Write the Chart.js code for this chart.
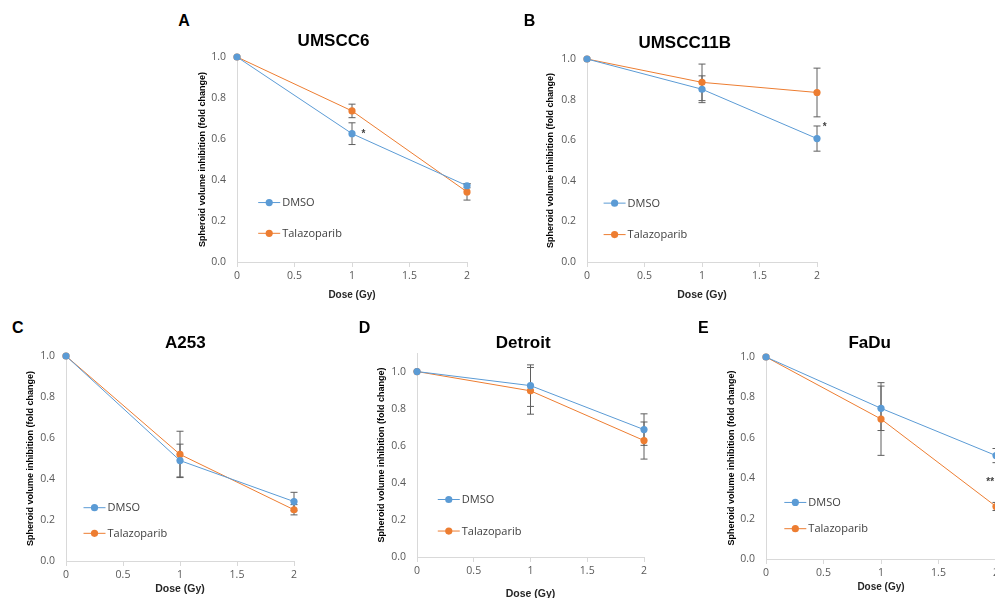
<!DOCTYPE html>
<html><head><meta charset="utf-8">
<script src="https://cdn.jsdelivr.net/npm/chart.js@4.4.1/dist/chart.umd.min.js"></script>
<style>
html,body{margin:0;padding:0;width:995px;height:598px;overflow:hidden;background:#fff;position:relative;}
canvas{position:absolute;}
.lbl{position:absolute;transform:translate(-50%,-50%);font-family:'Liberation Sans',Arial,sans-serif;font-weight:bold;line-height:1;white-space:nowrap;color:#000;}
</style></head><body>
<script>
// ---------- data ----------
const doses = [0, 1, 2];
const xTickLabels = ['0', '0.5', '1', '1.5', '2'];
const yTickLabels = ['0.0', '0.2', '0.4', '0.6', '0.8', '1.0'];
const seriesNames = ['DMSO', 'Talazoparib'];
const panelLetters = ['A', 'B', 'C', 'D', 'E'];
const panelTitles = ['UMSCC6', 'UMSCC11B', 'A253', 'Detroit', 'FaDu'];
const xAxisTitle = 'Dose (Gy)';
const yAxisTitle = 'Spheroid volume inhibition (fold change)';

const umscc6Dmso = [1.0, 0.626, 0.372];
const umscc6DmsoErr = [0, 0.053, 0.01];
const umscc6Tala = [1.0, 0.737, 0.342];
const umscc6TalaErr = [0, 0.033, 0.04];
const umscc6Marks = [{x: 1.10, y: 0.634, text: '*'}];

const umscc11bDmso = [1.0, 0.851, 0.608];
const umscc11bDmsoErr = [0, 0.066, 0.062];
const umscc11bTala = [1.0, 0.885, 0.835];
const umscc11bTalaErr = [0, 0.09, 0.12];
const umscc11bMarks = [{x: 2.066, y: 0.674, text: '*'}];

const a253Dmso = [1.0, 0.49, 0.29];
const a253DmsoErr = [0, 0.08, 0.045];
const a253Tala = [1.0, 0.52, 0.25];
const a253TalaErr = [0, 0.113, 0.025];
const a253Marks = [];

const detroitDmso = [1.0, 0.924, 0.687];
const detroitDmsoErr = [0, 0.112, 0.085];
const detroitTala = [1.0, 0.896, 0.628];
const detroitTalaErr = [0, 0.126, 0.10];
const detroitMarks = [];

const fadeDmso = [1.0, 0.746, 0.512];
const fadeDmsoErr = [0, 0.11, 0.035];
const fadeTala = [1.0, 0.693, 0.26];
const fadeTalaErr = [0, 0.18, 0.02];
const fadeMarks = [{x: 1.95, y: 0.39, text: '**'}];

// ---------- styles / layout ----------
const COLORS = ['#5b9bd5', '#ed7d31'];
const panels = [
  {L:237, R:467, T:57,  B:262, ymax:1.0, hx:39, xts:10,   ytp:5.6, lx:0.28,  ly:[0.29,0.14],  title:[333.5,40],   letter:[184,21.3],
   d:[umscc6Dmso, umscc6DmsoErr, umscc6Tala, umscc6TalaErr, umscc6Marks]},
  {L:587, R:817, T:59,  B:262, ymax:1.0, hx:39, xts:10.5, ytp:3.6, lx:0.24,  ly:[0.29,0.135], title:[684.7,41.7], letter:[529.5,21],
   d:[umscc11bDmso, umscc11bDmsoErr, umscc11bTala, umscc11bTalaErr, umscc11bMarks]},
  {L:66,  R:294, T:356, B:561, ymax:1.0, hx:34, xts:10.5, ytp:3.9, lx:0.25,  ly:[0.26,0.135], title:[185.3,342.3], letter:[17.8,328],
   d:[a253Dmso, a253DmsoErr, a253Tala, a253TalaErr, a253Marks]},
  {L:417, R:644, T:353, B:557, ymax:1.1, hx:43, xts:10.5, ytp:4.6, lx:0.28,  ly:[0.31,0.14],  title:[523.2,341.7], letter:[364.5,328.3],
   d:[detroitDmso, detroitDmsoErr, detroitTala, detroitTalaErr, detroitMarks]},
  {L:766, R:996, T:357, B:559, ymax:1.0, hx:34, xts:10,   ytp:5.0, lx:0.255, ly:[0.28,0.15],  title:[869.7,342.3], letter:[703.3,328],
   d:[fadeDmso, fadeDmsoErr, fadeTala, fadeTalaErr, fadeMarks]}
];

Chart.defaults.font.family = "'Open Sans', sans-serif";

const errorBars = {
  id: 'errorBars',
  beforeDatasetsDraw(chart) {
    const ctx = chart.ctx, y = chart.scales.y;
    ctx.save();
    ctx.strokeStyle = '#5f5f5f';
    ctx.lineWidth = 1;
    chart.data.datasets.forEach((ds, i) => {
      const meta = chart.getDatasetMeta(i);
      (ds.errors || []).forEach((e, j) => {
        if (!e) return;
        const px = meta.data[j].x;
        const v = ds.data[j].y;
        const t = y.getPixelForValue(v + e), b = y.getPixelForValue(v - e);
        ctx.beginPath();
        ctx.moveTo(px, t); ctx.lineTo(px, b);
        ctx.moveTo(px - 3.5, t); ctx.lineTo(px + 3.5, t);
        ctx.moveTo(px - 3.5, b); ctx.lineTo(px + 3.5, b);
        ctx.stroke();
      });
    });
    ctx.restore();
  }
};

const insideLegend = {
  id: 'insideLegend',
  afterDatasetsDraw(chart, args, opts) {
    if (!opts || opts.x === undefined) return;
    const ctx = chart.ctx, xs = chart.scales.x, ys = chart.scales.y;
    ctx.save();
    chart.data.datasets.forEach((ds, i) => {
      const cx = xs.getPixelForValue(opts.x), cy = ys.getPixelForValue(opts.ys[i]);
      ctx.strokeStyle = ds.borderColor; ctx.lineWidth = 1;
      ctx.beginPath(); ctx.moveTo(cx - 11, cy); ctx.lineTo(cx + 11, cy); ctx.stroke();
      ctx.fillStyle = ds.borderColor;
      ctx.beginPath(); ctx.arc(cx, cy, 3.6, 0, Math.PI * 2); ctx.fill();
      ctx.fillStyle = '#404040';
      ctx.font = "11px 'Open Sans', sans-serif";
      ctx.textBaseline = 'middle'; ctx.textAlign = 'left';
      ctx.fillText(ds.label, cx + 13, cy + 0.5);
    });
    ctx.restore();
  }
};

const sigMarks = {
  id: 'sigMarks',
  afterDatasetsDraw(chart, args, opts) {
    if (!opts || !opts.marks) return;
    const ctx = chart.ctx, xs = chart.scales.x, ys = chart.scales.y;
    ctx.save();
    ctx.fillStyle = '#404040';
    ctx.font = "bold 10px 'Liberation Sans', sans-serif";
    ctx.textAlign = 'center'; ctx.textBaseline = 'middle';
    opts.marks.forEach(m => ctx.fillText(m.text, xs.getPixelForValue(m.x), ys.getPixelForValue(m.y) + 2));
    ctx.restore();
  }
};
Chart.register(errorBars, insideLegend, sigMarks);

function addText(txt, pos, size) {
  const d = document.createElement('div');
  d.className = 'lbl';
  d.textContent = txt;
  d.style.left = pos[0] + 'px'; d.style.top = pos[1] + 'px';
  d.style.fontSize = size + 'px';
  document.body.appendChild(d);
}

panels.forEach((p, k) => {
  const [dm, dmErr, ta, taErr, marks] = p.d;
  const canvas = document.createElement('canvas');
  const left = p.L - 45, top = p.T - 12;
  const w = p.R - p.L + 55, h = p.B - p.T + 12 + p.hx;
  canvas.width = w; canvas.height = h;
  canvas.style.left = left + 'px'; canvas.style.top = top + 'px';
  canvas.style.width = w + 'px'; canvas.style.height = h + 'px';
  document.body.appendChild(canvas);

  const mk = (label, vals, errs, c) => ({
    label, data: doses.map((d, i) => ({x: d, y: vals[i]})), errors: errs,
    borderColor: c, backgroundColor: c, pointBackgroundColor: c, pointBorderColor: c,
    pointBorderWidth: 0, pointRadius: 3.6, borderWidth: 1, clip: false, tension: 0
  });

  new Chart(canvas, {
    type: 'line',
    data: {datasets: [mk(seriesNames[0], dm, dmErr, COLORS[0]), mk(seriesNames[1], ta, taErr, COLORS[1])]},
    options: {
      responsive: false, animation: false, devicePixelRatio: 1,
      layout: {padding: {left: 0, top: 12, right: 10, bottom: 0}},
      plugins: {
        legend: {display: false}, tooltip: {enabled: false}, title: {display: false},
        insideLegend: {x: p.lx, ys: p.ly},
        sigMarks: {marks: marks}
      },
      scales: {
        x: {
          type: 'linear', min: 0, max: 2,
          ticks: {stepSize: 0.5, padding: 3, color: '#595959', font: {size: 10.5}, maxRotation: 0,
                  callback: (v, i) => xTickLabels[i]},
          grid: {display: true, drawOnChartArea: false, drawTicks: true, tickLength: 5, color: '#d9d9d9'},
          border: {color: '#d9d9d9'},
          title: {display: true, text: xAxisTitle, color: '#262626', padding: 0,
                  font: {size: p.xts, weight: 'bold', family: "'Liberation Sans', sans-serif"}},
          afterFit(s) { s.height = p.hx; }
        },
        y: {
          type: 'linear', min: 0, max: p.ymax,
          ticks: {stepSize: 0.2, padding: 3, color: '#595959', font: {size: 10.5},
                  callback: (v) => {
                    const r = Math.round(v / 0.2);
                    return Math.abs(v / 0.2 - r) < 1e-6 ? yTickLabels[r] : '';
                  }},
          grid: {display: false},
          border: {color: '#d9d9d9'},
          title: {display: true, text: yAxisTitle, color: '#000', padding: {top: p.ytp, bottom: 0},
                  font: {size: 9, weight: 'bold', family: "'Liberation Sans', sans-serif"}},
          afterFit(s) { s.width = 45; }
        }
      }
    }
  });

  addText(panelLetters[k], p.letter, 16);
  addText(panelTitles[k], p.title, 17);
});
</script>
</body></html>
